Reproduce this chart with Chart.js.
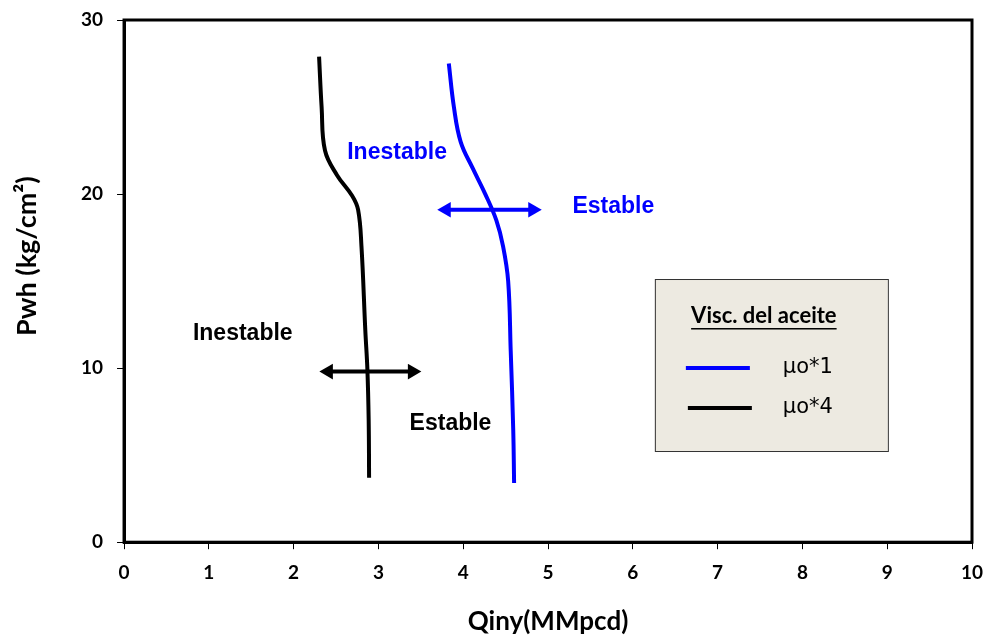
<!DOCTYPE html>
<html>
<head>
<meta charset="utf-8">
<script src="https://cdn.jsdelivr.net/npm/chart.js@4/dist/chart.umd.min.js"></script>
<style>
  html, body { margin: 0; padding: 0; background: #fff; }
  #wrap { width: 987px; height: 639px; position: relative; }
</style>
</head>
<body>
<div id="wrap"><canvas id="chart"></canvas></div>
<script>
// Curvas Pwh vs Qiny
const blackQ = [2.30, 2.33, 2.37, 2.51, 2.69, 2.76, 2.80, 2.845, 2.87, 2.885, 2.89];
const blackP = [27.9, 25.0, 22.5, 21.1, 19.9, 19.1, 17.0, 12.2, 9.9, 7.0, 3.7];
const blueQ = [3.83, 3.89, 3.97, 4.11, 4.26, 4.39, 4.47, 4.53, 4.56, 4.59, 4.60];
const blueP = [27.5, 25.0, 23.0, 21.5, 20.0, 18.5, 17.0, 15.0, 11.0, 6.4, 3.4];

// flechas (centros de las puntas)
const blueArrowQ = [3.80, 4.82];
const blueArrowP = [19.1, 19.1];
const blackArrowQ = [2.41, 3.40];
const blackArrowP = [9.8, 9.8];

const xTicks = [0, 1, 2, 3, 4, 5, 6, 7, 8, 9, 10];
const yTicks = [0, 10, 20, 30];

const notes = [
  { text: 'Inestable', q: 3.22, p: 22.4, color: '#0000FF' },
  { text: 'Estable', q: 5.77, p: 19.25, color: '#0000FF' },
  { text: 'Inestable', q: 1.40, p: 12.0, color: '#000000' },
  { text: 'Estable', q: 3.85, p: 6.8, color: '#000000' },
];

const legendItems = [
  { label: 'μo*1', color: '#0000FF' },
  { label: 'μo*4', color: '#000000' },
];

const pts = (xs, ys) => xs.map((x, i) => ({ x, y: ys[i] }));

const frame = {
  id: 'frame',
  afterDatasetsDraw(chart) {
    const { ctx, chartArea: a, scales } = chart;
    ctx.save();
    ctx.strokeStyle = '#000';
    ctx.lineWidth = 3;
    ctx.strokeRect(a.left, a.top, a.right - a.left, a.bottom - a.top);

    // titulo eje Y (algo por encima del centro, como en el original)
    ctx.save();
    ctx.translate(27, (a.top + a.bottom) / 2 - 25);
    ctx.rotate(-Math.PI / 2);
    ctx.textAlign = 'center';
    ctx.textBaseline = 'middle';
    ctx.fillStyle = '#000';
    ctx.font = 'bold 27px Lato, sans-serif';
    ctx.fillText('Pwh (kg/cm²)', 0, 0);
    ctx.restore();

    ctx.textAlign = 'center';
    ctx.textBaseline = 'middle';
    ctx.font = 'bold 23px "Liberation Sans", Arial, sans-serif';
    notes.forEach(n => {
      ctx.fillStyle = n.color;
      ctx.fillText(n.text, scales.x.getPixelForValue(n.q), scales.y.getPixelForValue(n.p));
    });

    // leyenda
    const w = a.right - a.left, h = a.bottom - a.top;
    const bx = a.left + w * 0.626, by = a.top + h * 0.496;
    const bw = 233, bh = 172;
    ctx.fillStyle = '#EDEAE1';
    ctx.fillRect(bx, by, bw, bh);
    ctx.strokeStyle = '#333';
    ctx.lineWidth = 1;
    ctx.strokeRect(bx + 0.5, by + 0.5, bw, bh);

    ctx.fillStyle = '#000';
    ctx.font = 'bold 22px Lato, "Open Sans", sans-serif';
    const title = 'Visc. del aceite';
    const tw = ctx.measureText(title).width;
    const tx = bx + 109;
    ctx.fillText(title, tx, by + 37);
    ctx.fillRect(tx - tw / 2, by + 49, tw, 1.5);

    legendItems.forEach((it, i) => {
      const ly = by + 89 + i * 40;
      ctx.strokeStyle = it.color;
      ctx.lineWidth = 4;
      ctx.beginPath();
      ctx.moveTo(bx + 31 + i * 2, ly);
      ctx.lineTo(bx + 95 + i * 2, ly);
      ctx.stroke();
      ctx.fillStyle = '#000';
      ctx.font = '21px "DejaVu Sans", sans-serif';
      ctx.textAlign = 'left';
      ctx.fillText(it.label, bx + 128, ly);
      ctx.textAlign = 'center';
    });
    ctx.restore();
  }
};

const arrowStyle = color => ({
  borderColor: color,
  backgroundColor: color,
  borderWidth: 4,
  showLine: true,
  pointStyle: 'triangle',
  pointRadius: 9,
  pointHoverRadius: 9,
  pointRotation: [270, 90],
  pointBorderWidth: 0,
});

new Chart(document.getElementById('chart'), {
  type: 'scatter',
  data: {
    datasets: [
      { label: 'μo*1', data: pts(blueQ, blueP), borderColor: '#0000FF', borderWidth: 4,
        showLine: true, pointRadius: 0, tension: 0.4 },
      { label: 'μo*4', data: pts(blackQ, blackP), borderColor: '#000000', borderWidth: 4,
        showLine: true, pointRadius: 0, tension: 0.4 },
      { label: 'flecha1', data: pts(blueArrowQ, blueArrowP), ...arrowStyle('#0000FF') },
      { label: 'flecha4', data: pts(blackArrowQ, blackArrowP), ...arrowStyle('#000000') },
    ],
  },
  options: {
    responsive: true,
    maintainAspectRatio: false,
    animation: false,
    layout: { padding: { top: 20, right: 15, left: 67, bottom: 0 } },
    plugins: { legend: { display: false }, tooltip: { enabled: false } },
    scales: {
      x: {
        type: 'linear', min: 0, max: 10,
        afterBuildTicks: s => { s.ticks = xTicks.map(v => ({ value: v })); },
        afterFit: s => { s.paddingRight = 0; },
        ticks: { color: '#000', padding: 12, font: { family: 'Lato', weight: 'bold', size: 19 } },
        grid: { drawOnChartArea: false, drawTicks: true, tickLength: 7, color: '#000' },
        border: { display: true, width: 3, color: '#000' },
        title: { display: true, text: 'Qiny(MMpcd)', color: '#000', padding: { top: 13 },
          font: { family: 'Lato', weight: 'bold', size: 26, lineHeight: 1 } },
      },
      y: {
        type: 'linear', min: 0, max: 30,
        afterBuildTicks: s => { s.ticks = yTicks.map(v => ({ value: v })); },
        afterFit: s => { s.paddingTop = 0; },
        ticks: { color: '#000', padding: 14, font: { family: 'Lato', weight: 'bold', size: 19 } },
        grid: { drawOnChartArea: false, drawTicks: true, tickLength: 7, color: '#000' },
        border: { display: true, width: 3, color: '#000' },
        title: { display: false },
      },
    },
  },
  plugins: [frame],
});
</script>
</body>
</html>
